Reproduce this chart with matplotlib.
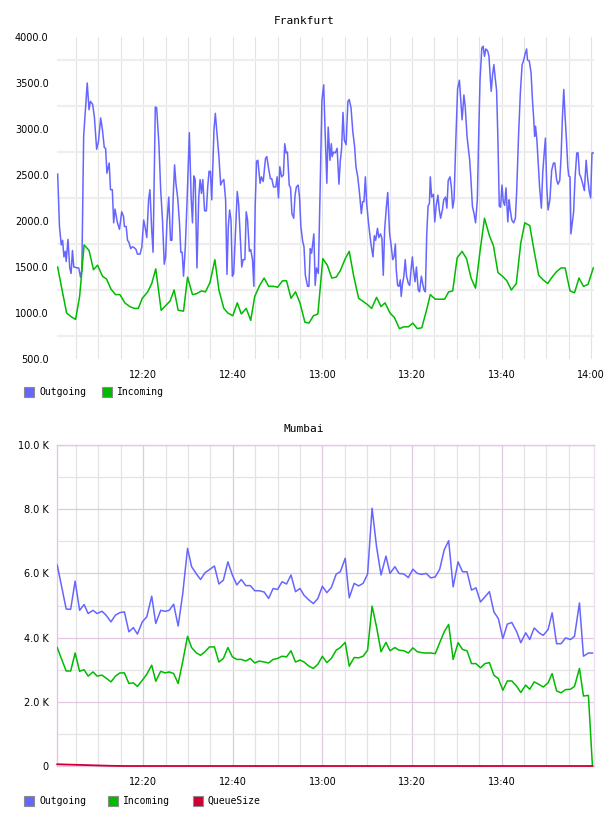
import matplotlib
matplotlib.use("Agg")
import matplotlib.pyplot as plt
from matplotlib.patches import Rectangle
from matplotlib.ticker import FuncFormatter, MultipleLocator

# Frankfurt: minutes after 12:00 and values
fra_out_t = [0.9, 1.3, 1.7, 2.0, 2.3, 2.6, 2.8, 3.2, 3.6, 3.9, 4.2, 4.5, 5.3, 5.6, 6.0, 6.3, 6.7,
             7.5, 7.9, 8.2, 8.7, 9.1, 9.6, 10.0, 10.5, 10.9, 11.3, 11.6, 11.9, 12.4, 12.7, 13.1,
             13.4, 13.7, 14.2, 14.7, 15.2, 15.6, 15.8, 16.2, 16.5, 16.8, 17.2, 17.6, 18.0, 18.4,
             18.7, 19.3, 19.7, 20.1, 20.4, 20.8, 21.2, 21.5, 21.9, 22.2, 22.7, 23.0, 23.5, 23.9,
             24.3, 24.7, 25.0, 25.3, 25.7, 26.1, 26.4, 26.7, 27.0, 27.3, 27.7, 28.1, 28.4, 28.7,
             29.0, 29.4, 29.8, 30.3, 30.7, 31.0, 31.3, 31.6, 32.0, 32.4, 32.7, 33.0, 33.3, 33.7,
             34.1, 34.4, 34.7, 35.0, 35.3, 35.8, 36.1, 36.4, 36.9, 37.3, 37.6, 38.0, 38.4, 38.7,
             39.0, 39.3, 39.6, 39.9, 40.2, 40.6, 41.0, 41.3, 41.7, 42.0, 42.3, 42.7, 43.0, 43.3,
             43.7, 44.0, 44.4, 44.7, 45.0, 45.3, 45.6, 46.1, 46.4, 46.8, 47.3, 47.6, 48.0, 48.4,
             48.7, 49.1, 49.6, 49.9, 50.2, 50.5, 50.9, 51.3, 51.6, 51.9, 52.2, 52.6, 52.9, 53.2,
             53.6, 53.9, 54.2, 54.6, 54.9, 55.2, 55.6, 55.9, 56.2, 56.7, 57.0, 57.3, 57.6, 58.1,
             58.4, 58.7, 59.1, 59.5, 59.9, 60.3, 60.6, 61.0, 61.3, 61.7, 62.0, 62.2, 62.5, 62.9,
             63.3, 63.7, 64.0, 64.3, 64.6, 64.9, 65.3, 65.7, 66.0, 66.4, 66.8, 67.2, 67.5, 67.9,
             68.3, 68.7, 69.0, 69.3, 69.6, 69.9, 70.3, 70.7, 71.0, 71.3, 71.6, 71.9, 72.3, 72.6,
             73.0, 73.3, 73.6, 73.9, 74.3, 74.6, 75.0, 75.4, 75.7, 76.0, 76.3, 76.5, 76.8, 77.1,
             77.4, 77.6, 77.9, 78.2, 78.5, 78.8, 79.2, 79.5, 79.8, 80.1, 80.3, 80.7, 81.0, 81.4,
             81.7, 82.1, 82.4, 82.7, 83.0, 83.3, 83.6, 83.9, 84.1, 84.4, 84.8, 85.1, 85.4, 85.8,
             86.1, 86.4, 86.8, 87.1, 87.5, 87.8, 88.1, 88.5, 88.8, 89.1, 89.4, 89.8, 90.2, 90.6,
             90.9, 91.2, 91.6, 91.9, 92.3, 92.6, 92.9, 93.2, 93.5, 93.9, 94.2, 94.6, 94.9, 95.2,
             95.6, 95.9, 96.2, 96.5, 96.9, 97.2, 97.5, 97.7, 98.0, 98.3, 98.6, 98.9, 99.2, 99.5,
             99.8, 100.1, 100.4, 100.7, 101.0, 101.4, 101.7, 101.9, 102.3, 102.7, 103.1, 103.4,
             103.8, 104.2, 104.6, 104.9, 105.3, 105.6, 105.8, 106.2, 106.6, 106.9, 107.2, 107.4,
             107.6, 107.9, 108.2, 108.5, 108.9, 109.2, 109.5, 109.8, 110.1, 110.4, 110.8, 111.2,
             111.6, 111.9, 112.3, 112.6, 113.0, 113.3, 113.6, 113.9, 114.2, 114.5, 114.8, 115.0,
             115.3, 115.5, 115.8, 116.1, 116.4, 116.8, 117.1, 117.4, 117.7, 118.1, 118.5, 118.9,
             119.2, 119.6, 119.9, 120.2, 120.6]
fra_out_v = [2510, 1940, 1740, 1790, 1610, 1670, 1560, 1800, 1490, 1430, 1680, 1500, 1490, 1490, 1390, 1470, 2920,
             3500, 3210, 3300, 3270, 3130, 2780, 2860, 3120, 2990, 2800, 2790, 2520, 2630, 2340, 2340,
             1980, 2130, 1990, 1910, 2100, 2050, 1940, 1940, 1790, 1770, 1700, 1720, 1710, 1690,
             1640, 1640, 1720, 2010, 1940, 1820, 2230, 2340, 1900, 1660, 3240, 3230, 2840, 2340,
             2010, 1530, 1610, 1980, 2260, 1790, 1790, 2270, 2610, 2410, 2250, 1980, 1660, 1660,
             1400, 1720, 2230, 2960, 2260, 1980, 2490, 2450, 1490, 2260, 2450, 2300, 2450, 2110,
             2110, 2370, 2540, 2540, 2230, 2990, 3170, 2990, 2700, 2390, 2430, 2450, 2230, 1420,
             1940, 2120, 2010, 1400, 1430, 1870, 2320, 2190, 1790, 1500, 1580, 1580, 2100, 2010,
             1670, 1690, 1580, 1290, 2160, 2650, 2660, 2410, 2480, 2430, 2680, 2700, 2570, 2460,
             2460, 2370, 2370, 2480, 2250, 2590, 2480, 2500, 2840, 2740, 2750, 2390, 2360, 2080,
             2030, 2280, 2370, 2390, 2260, 1940, 1780, 1720, 1410, 1290, 1290, 1700, 1650, 1860,
             1300, 1490, 1430, 2340, 3310, 3480, 2990, 2410, 3020, 2660, 2840, 2700, 2750, 2740,
             2790, 2400, 2650, 2790, 3180, 2880, 2830, 3300, 3320, 3230, 2970, 2810, 2590, 2480,
             2300, 2080, 2210, 2210, 2480, 2190, 1980, 1810, 1700, 1610, 1840, 1790, 1920, 1820,
             1860, 1810, 1410, 1900, 2160, 2310, 1870, 1720, 1580, 1610, 1750, 1470, 1300, 1290,
             1360, 1180, 1320, 1400, 1580, 1400, 1320, 1300, 1470, 1610, 1490, 1340, 1500, 1250,
             1230, 1400, 1320, 1250, 1230, 1850, 2160, 2190, 2480, 2260, 2290, 1990, 2160, 2280,
             2120, 2030, 2120, 2230, 2260, 2140, 2440, 2480, 2370, 2140, 2230, 2880, 3440, 3530,
             3320, 3100, 3370, 3240, 2920, 2790, 2660, 2430, 2160, 2070, 1980, 2230, 2920, 3530,
             3880, 3900, 3790, 3870, 3850, 3790, 3550, 3410, 3590, 3700, 3550, 3420, 2880, 2160,
             2150, 2390, 2210, 2170, 2360, 1990, 2230, 2140, 2010, 1980, 2030, 2340,
             2920, 3390, 3700, 3740, 3820, 3870, 3750, 3740, 3610, 3320, 3100, 2920,
             3030, 2880, 2630, 2370, 2140, 2520, 2720, 2900, 2370, 2120, 2230, 2550,
             2630, 2630, 2450, 2400, 2440, 2700, 3130, 3430, 3130, 2880, 2590, 2490,
             2480, 1860, 1980, 2100, 2450, 2740, 2740, 2510, 2480, 2410, 2330, 2660,
             2480, 2320, 2250, 2740, 2740]

fra_in_t = [0.9, 1.8, 2.9, 3.9, 4.9, 5.8, 6.2, 6.8, 7.9, 8.9, 9.8, 10.9, 11.8, 12.8, 13.8, 14.8,
            15.9, 17.0, 18.0, 18.9, 19.8, 21.0, 21.9, 22.8, 24.0, 25.0, 26.0, 26.9, 27.8, 29.0,
            29.9, 31.0, 31.9, 33.0, 33.9, 34.9, 36.0, 36.9, 38.0, 38.9, 40.0, 41.0, 41.9, 43.0,
            44.0, 44.9, 46.0, 47.0, 48.0, 49.1, 50.0, 51.1, 52.0, 53.0, 54.0, 55.0, 56.1, 57.0,
            58.0, 59.0, 60.1, 61.1, 62.1, 63.1, 64.0, 65.1, 66.0, 67.0, 68.1, 69.0, 70.1, 71.0,
            72.1, 73.1, 74.0, 75.1, 76.1, 77.2, 78.2, 79.2, 80.2, 81.2, 82.2, 83.2, 84.1, 85.2,
            86.2, 87.3, 88.2, 89.1, 90.1, 91.2, 92.2, 93.2, 94.2, 95.2, 96.2, 97.3, 98.2, 99.2,
            100.2, 101.2, 102.2, 103.3, 104.3, 105.2, 106.3, 107.3, 108.3, 109.3, 110.3, 111.3,
            112.3, 113.3, 114.2, 115.3, 116.3, 117.3, 118.3, 119.3, 120.5]
fra_in_v = [1500, 1270, 1000, 960, 930, 1180, 1400, 1740, 1680, 1470, 1520, 1400, 1370, 1260, 1200, 1200,
            1110, 1070, 1050, 1050, 1160, 1230, 1320, 1480, 1030, 1080, 1130, 1250, 1030, 1020,
            1390, 1200, 1210, 1240, 1230, 1330, 1580, 1250, 1050, 1000, 970, 1110, 990, 1050,
            920, 1180, 1300, 1380, 1290, 1290, 1280, 1350, 1350, 1160, 1230, 1110, 900, 890,
            970, 990, 1590, 1520, 1380, 1390, 1460, 1590, 1670, 1400, 1160, 1130, 1090, 1050,
            1170, 1070, 1110, 1000, 950, 830, 850, 850, 890, 830, 840, 1020, 1200, 1150,
            1150, 1150, 1230, 1240, 1600, 1670, 1590, 1380, 1270, 1670, 2030, 1840, 1730, 1440,
            1400, 1350, 1250, 1320, 1760, 1980, 1950, 1670, 1410, 1360, 1320, 1390,
            1450, 1490, 1490, 1240, 1220, 1380, 1290, 1310, 1490]

# Mumbai: one sample per minute
mum_t = [0.8, 1.8, 2.8, 3.8, 4.8, 5.8, 6.8, 7.7, 8.8, 9.7, 10.8, 11.7, 12.8, 13.8, 14.8,
         15.8, 16.8, 17.8, 18.7, 19.8, 20.8, 21.9, 22.8, 23.9, 24.9, 25.8, 26.8, 27.8, 28.8, 29.9,
         30.8, 31.9, 32.8, 33.8, 34.8, 35.9, 36.9, 37.9, 38.9, 39.9, 40.9, 41.9, 42.9, 43.9, 44.9,
         45.9, 47.0, 48.0, 49.0, 50.0, 51.0, 52.0, 53.0, 54.0, 55.0, 55.9, 57.0, 58.0, 59.0, 60.0,
         61.0, 62.0, 63.1, 64.0, 65.1, 66.0, 67.1, 68.1, 69.1, 70.1, 71.1, 72.1, 73.1, 74.2, 75.1,
         76.2, 77.1, 78.2, 79.2, 80.2, 81.2, 82.2, 83.2, 84.2, 85.2, 86.2, 87.2, 88.2, 89.2, 90.3,
         91.3, 92.3, 93.3, 94.3, 95.3, 96.3, 97.3, 98.3, 99.3, 100.3, 101.3, 102.3, 103.4, 104.3,
         105.4, 106.3, 107.3, 108.4, 109.3, 110.4, 111.3, 112.3, 113.3, 114.3, 115.4, 116.3, 117.4,
         118.3, 119.4, 120.3]
mum_out = [6260, 5580, 4890, 4880, 5760, 4850, 5030, 4750, 4850, 4750, 4820, 4700, 4490, 4700, 4780,
           4800, 4180, 4310, 4110, 4490, 4650, 5290, 4440, 4850, 4820, 4850, 5040, 4360, 5340, 6780,
           6210, 5980, 5810, 6020, 6120, 6230, 5670, 5790, 6360, 5950, 5640, 5810, 5620, 5620, 5460,
           5460, 5420, 5220, 5530, 5500, 5740, 5670, 5950, 5430, 5530, 5320, 5170, 5060, 5220, 5600,
           5400, 5560, 5980, 6050, 6470, 5240, 5690, 5610, 5690, 5980, 8030, 6830, 5950, 6540, 6000,
           6210, 6000, 5980, 5870, 6130, 6000, 5970, 6000, 5860, 5890, 6130, 6730, 7020, 5580, 6360,
           6050, 6050, 5480, 5550, 5110, 5270, 5430, 4800, 4590, 3970, 4420, 4470, 4180, 3840,
           4150, 3940, 4300, 4150, 4070, 4250, 4770, 3810, 3810, 3990, 3940, 4040, 5080,
           3420, 3520, 3520]
mum_in = [3690, 3320, 2960, 2960, 3520, 2950, 3000, 2800, 2930, 2800, 2830, 2740, 2620, 2800, 2900,
          2900, 2570, 2590, 2480, 2670, 2860, 3140, 2640, 2950, 2900, 2930, 2880, 2570, 3240, 4040,
          3690, 3520, 3450, 3560, 3710, 3710, 3240, 3350, 3690, 3400, 3320, 3320, 3270, 3350, 3210,
          3270, 3240, 3210, 3320, 3350, 3420, 3400, 3590, 3240, 3300, 3240, 3110, 3040, 3170, 3420,
          3220, 3350, 3610, 3690, 3850, 3110, 3380, 3370, 3420, 3610, 4980, 4330, 3560, 3850, 3590,
          3690, 3610, 3590, 3520, 3680, 3560, 3530, 3520, 3520, 3500, 3840, 4180, 4410, 3320, 3840,
          3630, 3590, 3190, 3190, 3060, 3190, 3220, 2830, 2720, 2360, 2650, 2650, 2480, 2290,
          2520, 2390, 2620, 2540, 2460, 2590, 2880, 2340, 2280, 2380, 2390, 2480, 3040,
          2180, 2200, 0]
queue_t = [0.8, 3.8, 6.8, 9.7, 12.8, 15.8, 120.3]
queue_v = [55, 42, 30, 18, 6, 0, 0]

BLUE = "#6666ff"
GREEN = "#00bb00"
RED = "#cc0033"
PURPLE = "#e2c8e2"
GRAY = "#e3e3e3"

W, H = 608, 816
fig = plt.figure(figsize=(W / 100, H / 100), dpi=100)


def box(l, t, r, b):
    return [l / W, 1 - b / H, (r - l) / W, (b - t) / H]


def tfmt(m, pos):
    m = int(round(m))
    return "%d:%02d" % (12 + m // 60, m % 60)


tick_font = dict(family="DejaVu Sans", size=7)

# ---- Frankfurt ----
ax1 = fig.add_axes(box(57, 37, 594, 359))
ax1.plot(fra_out_t, fra_out_v, color=BLUE, lw=1.1, zorder=3)
ax1.plot(fra_in_t, fra_in_v, color=GREEN, lw=1.1, zorder=3)
ax1.set_xlim(0.75, 120.65)
ax1.set_ylim(500, 4000)
ax1.xaxis.set_major_locator(MultipleLocator(20))
ax1.xaxis.set_minor_locator(MultipleLocator(5))
ax1.xaxis.set_major_formatter(FuncFormatter(tfmt))
ax1.set_yticks(range(500, 4001, 500))
ax1.set_yticks(range(750, 4000, 500), minor=True)
ax1.yaxis.set_major_formatter(FuncFormatter(lambda v, p: "%.1f" % v))
ax1.grid(True, axis="x", which="both", color=GRAY, lw=0.8, zorder=0)
ax1.grid(True, axis="y", which="minor", color="#eeeeee", lw=1.6, zorder=0)
ax1.grid(False, axis="y", which="major")
for s in ax1.spines.values():
    s.set_visible(False)
ax1.tick_params(which="both", length=0)
ax1.tick_params(axis="x", pad=8)
ax1.tick_params(axis="y", pad=6)
for lab in ax1.get_xticklabels() + ax1.get_yticklabels():
    lab.set_fontfamily(tick_font["family"])
    lab.set_fontsize(tick_font["size"])

# ---- Mumbai ----
ax2 = fig.add_axes(box(57, 445, 594, 766))
ax2.plot(mum_t, mum_out, color=BLUE, lw=1.1, zorder=3)
ax2.plot(mum_t, mum_in, color=GREEN, lw=1.1, zorder=3)
ax2.plot(queue_t, queue_v, color=RED, lw=1.3, zorder=4, clip_on=False)
ax2.set_xlim(0.75, 120.65)
ax2.set_ylim(0, 10000)
ax2.set_xticks([20, 40, 60, 80, 100])
ax2.set_xticks([5, 10, 15, 25, 30, 35, 45, 50, 55, 65, 70, 75, 85, 90, 95, 105, 110, 115],
               minor=True)
ax2.xaxis.set_major_formatter(FuncFormatter(tfmt))
ax2.set_yticks(range(0, 10001, 2000))
ax2.set_yticks(range(1000, 10000, 2000), minor=True)
ax2.yaxis.set_major_formatter(
    FuncFormatter(lambda v, p: "0" if v == 0 else "%.1f K" % (v / 1000)))
ax2.grid(True, which="major", color=PURPLE, lw=0.9, zorder=0)
ax2.grid(True, which="minor", color=GRAY, lw=0.9, zorder=0)
for s in ax2.spines.values():
    s.set_color(PURPLE)
    s.set_linewidth(1.0)
ax2.spines["right"].set_color("#efdfef")
ax2.tick_params(which="both", length=0)
ax2.tick_params(axis="x", pad=8)
ax2.tick_params(axis="y", pad=6)
for lab in ax2.get_xticklabels() + ax2.get_yticklabels():
    lab.set_fontfamily(tick_font["family"])
    lab.set_fontsize(tick_font["size"])

# ---- titles ----
mono = "DejaVu Sans Mono"
fig.text(304 / W, 1 - 20.5 / H, "Frankfurt", ha="center", va="center", family=mono, size=8)
fig.text(304 / W, 1 - 429 / H, "Mumbai", ha="center", va="center", family=mono, size=8)

# ---- legends ----
def legend(items, yc):
    for x0, color, label in items:
        fig.patches.append(Rectangle((x0 / W, 1 - (yc + 5) / H), 10 / W, 10 / H,
                                     transform=fig.transFigure, facecolor=color,
                                     edgecolor="#8c8c8c", lw=0.8))
        fig.text((x0 + 15) / W, 1 - yc / H, label, ha="left", va="center",
                 family=mono, size=7)


legend([(24, BLUE, "Outgoing"), (102, GREEN, "Incoming")], 392)
legend([(24, BLUE, "Outgoing"), (108, GREEN, "Incoming"), (193, RED, "QueueSize")], 801)

fig.savefig("out.png", dpi=100)
